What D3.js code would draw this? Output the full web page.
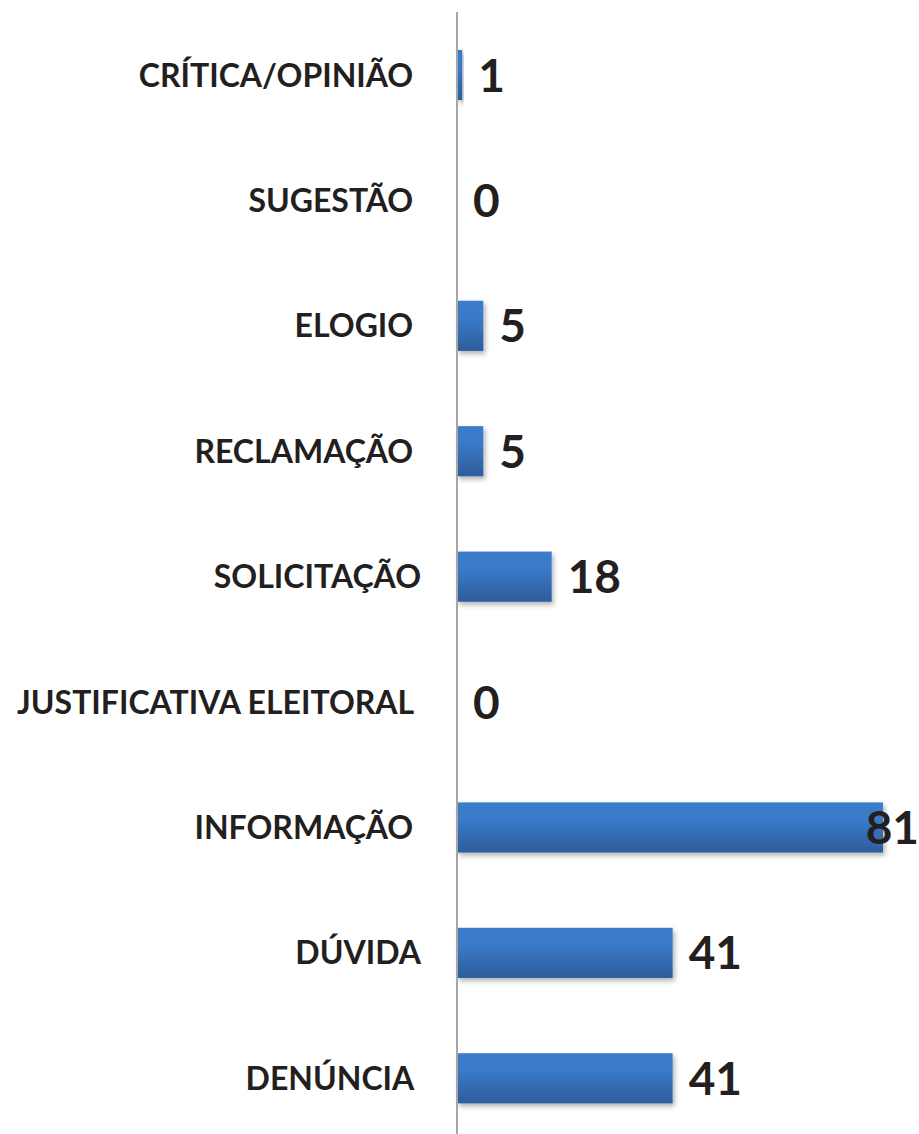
<!DOCTYPE html>
<html>
<head>
<meta charset="utf-8">
<script src="https://cdn.jsdelivr.net/npm/d3@7"></script>
<style>
  html, body { margin: 0; padding: 0; background: #fff; }
  text { font-family: Lato, "Open Sans", sans-serif; font-weight: bold; fill: #231f20; white-space: pre; }
</style>
</head>
<body>
<svg id="chart"></svg>
<script>
// Chart data
const categories = ["CRÍTICA/OPINIÃO ", "SUGESTÃO ", "ELOGIO ", "RECLAMAÇÃO ", "SOLICITAÇÃO",
    "JUSTIFICATIVA ELEITORAL ", "INFORMAÇÃO ", "DÚVIDA", "DENÚNCIA "];
const values = [1, 0, 5, 5, 18, 0, 81, 41, 41];

const width = 919;
const height = 1134;

const rows = categories.map((c, i) => ({c, v: values[i]}));

const svg = d3.select("#chart")
    .attr("width", width)
    .attr("height", height);

// Bar gradient + soft shadow
const defs = svg.append("defs");
const grad = defs.append("linearGradient")
    .attr("id", "barGrad")
    .attr("x1", 0).attr("y1", 0).attr("x2", 0).attr("y2", 1);
grad.append("stop").attr("offset", "0%").attr("stop-color", "#3b7ccb");
grad.append("stop").attr("offset", "35%").attr("stop-color", "#3a7ac8");
grad.append("stop").attr("offset", "100%").attr("stop-color", "#2d5d9b");

const shadow = defs.append("filter")
    .attr("id", "shadow")
    .attr("x", "-10%").attr("y", "-20%")
    .attr("width", "130%").attr("height", "160%");
shadow.append("feDropShadow")
    .attr("dx", 2).attr("dy", 3)
    .attr("stdDeviation", 2.5)
    .attr("flood-color", "#000")
    .attr("flood-opacity", 0.3);

// Scales
const y = d3.scaleBand()
    .domain(categories)
    .range([12.3, 1141])
    .paddingInner(0.6)
    .paddingOuter(0.3);

const x = d3.scaleLinear()
    .domain([0, 81])
    .range([457, 883]);

// Bars (zero values draw nothing)
svg.append("g")
    .selectAll("rect")
    .data(rows.filter(d => d.v > 0))
    .join("rect")
    .attr("x", x(0))
    .attr("y", d => y(d.c))
    .attr("width", d => x(d.v) - x(0))
    .attr("height", y.bandwidth())
    .attr("fill", "url(#barGrad)")
    .attr("filter", "url(#shadow)");

// Vertical axis line
svg.append("line")
    .attr("x1", x(0)).attr("x2", x(0))
    .attr("y1", 12).attr("y2", height)
    .attr("stroke", "#a6a6a6")
    .attr("stroke-width", 2);

// Category labels
svg.append("g")
    .selectAll("text")
    .data(categories)
    .join("text")
    .attr("x", 421)
    .attr("y", d => y(d) + y.bandwidth() / 2)
    .attr("dy", "0.36em")
    .attr("text-anchor", "end")
    .style("font-size", "32px")
    .text(d => d);

// Value labels, kept inside the page on the right
svg.append("g")
    .selectAll("text")
    .data(rows)
    .join("text")
    .attr("y", d => y(d.c) + y.bandwidth() / 2)
    .attr("dy", "0.36em")
    .style("font-size", "46px")
    .text(d => d.v)
    .attr("x", function(d) {
        const w = this.getComputedTextLength();
        return Math.min(x(d.v) + 16, width - w);
    });
</script>
</body>
</html>
